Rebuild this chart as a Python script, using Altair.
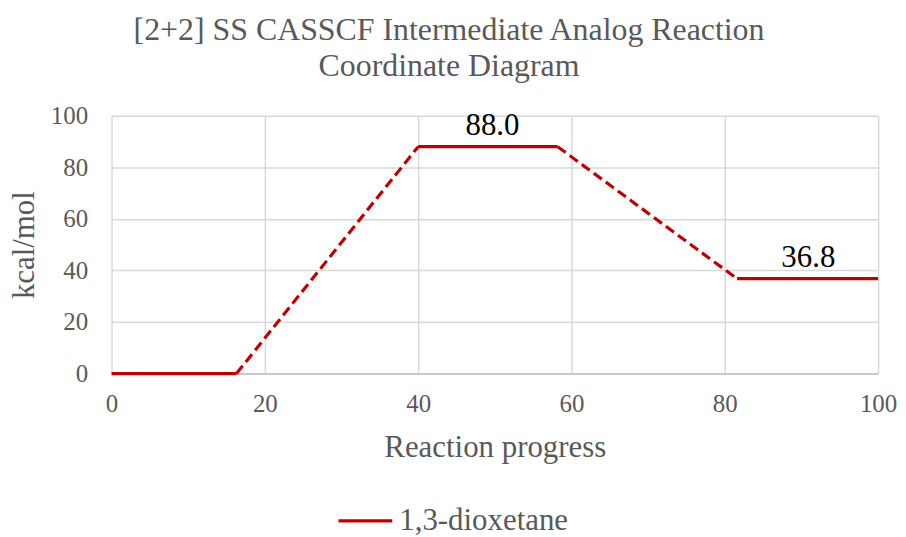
import altair as alt
import pandas as pd

# Reaction coordinate points (x = progress, y = kcal/mol)
xs = [0, 16.3, 40, 58.2, 81.6, 100]
ys = [0, 0, 88.0, 88.0, 36.8, 36.8]
seg_styles = ["solid", "dashed", "solid", "dashed", "solid"]
series = "1,3-dioxetane"

label_x = [49.7, 90.9]
label_y = [88.0, 36.8]
label_text = ["88.0", "36.8"]

rows = []
for i, st in enumerate(seg_styles):
    for j in (i, i + 1):
        rows.append({"seg": i, "style": st, "x": xs[j], "y": ys[j], "series": series})
df = pd.DataFrame(rows)
lab = pd.DataFrame({"x": label_x, "y": label_y, "t": label_text})

FONT = "Liberation Serif, Times New Roman, serif"
GRAY = "#595959"

xenc = alt.X("x:Q", scale=alt.Scale(domain=[0, 100], nice=False),
             axis=alt.Axis(values=[0, 20, 40, 60, 80, 100], title="Reaction progress",
                           labelFlush=False))
yenc = alt.Y("y:Q", scale=alt.Scale(domain=[0, 100], nice=False),
             axis=alt.Axis(values=[0, 20, 40, 60, 80, 100], title="kcal/mol",
                           labelFlush=False))

lines = alt.Chart(df).mark_line(strokeWidth=3.2, strokeCap="butt").encode(
    x=xenc,
    y=yenc,
    detail="seg:N",
    color=alt.Color("series:N", scale=alt.Scale(range=["#C00000"]),
                    legend=alt.Legend(title=None, orient="none", legendX=226, legendY=378,
                                      symbolType="stroke", symbolSize=2916,
                                      symbolStrokeWidth=3.2, labelFontSize=31,
                                      labelFont=FONT, labelColor=GRAY, labelOffset=5,
                                      padding=0, labelLimit=400)),
    strokeDash=alt.StrokeDash("style:N", scale=alt.Scale(domain=["solid", "dashed"],
                                                         range=[[1, 0], [10, 5]]),
                              legend=None),
)

texts = alt.Chart(lab).mark_text(font=FONT, fontSize=31, color="black",
                                 baseline="alphabetic", dy=-12).encode(
    x="x:Q", y="y:Q", text="t:N")

chart = alt.layer(lines, texts).properties(
    width=770, height=259,
    title=alt.Title(["[2+2] SS CASSCF Intermediate Analog Reaction", "Coordinate Diagram"],
                    font=FONT, fontSize=32, fontWeight="normal", color=GRAY,
                    anchor="middle", frame="group", dx=-46, offset=21, lineHeight=36),
    padding={"left": 104, "top": 107, "right": 20, "bottom": 170},
    autosize=alt.AutoSizeParams(type="none"),
).configure_view(stroke=None).configure_axis(
    labelFont=FONT, labelFontSize=25, labelColor=GRAY,
    titleFont=FONT, titleFontSize=31, titleColor=GRAY, titleFontWeight="normal",
    gridColor="#d9d9d9", gridWidth=1.5, ticks=False,
).configure_axisY(domain=False, labelPadding=24, titlePadding=10
).configure_axisX(domain=True, domainColor="#bfbfbf", domainWidth=1.5,
                  labelPadding=18, titlePadding=16)

chart.save("out.html", embed_options={"renderer": "svg", "actions": False})
